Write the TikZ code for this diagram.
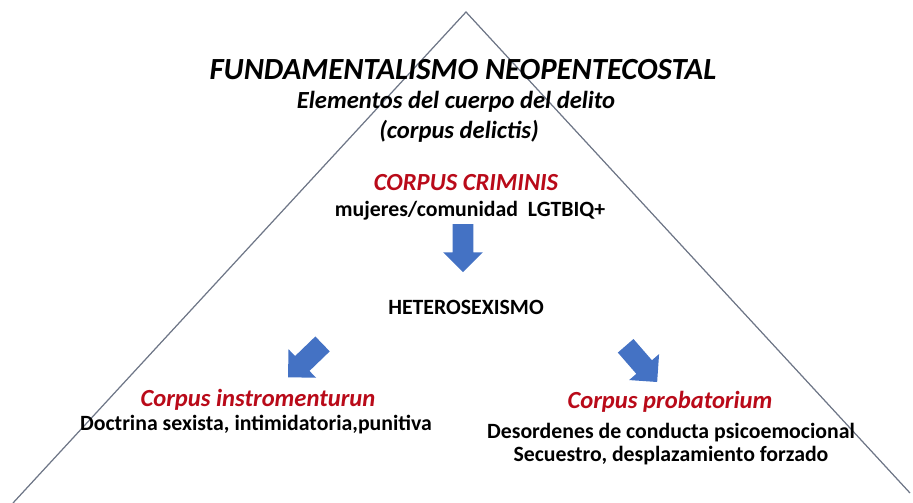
\documentclass[tikz,border=0pt]{standalone}
\usepackage{fontspec}
\setmainfont{Carlito}
\usepackage{tikz}
\usetikzlibrary{positioning,shapes.arrows}
\definecolor{darkred}{RGB}{185,10,25}
\definecolor{arrowblue}{RGB}{68,114,196}
\definecolor{edgegray}{RGB}{110,118,135}

\begin{document}
\begin{tikzpicture}[x=0.02cm, y=-0.02cm, inner sep=0pt,
		head/.style={font=\fontsize{17.5}{20}\selectfont\bfseries\itshape},
		sub/.style={font=\fontsize{14}{16}\selectfont\bfseries\itshape},
		redhead/.style={font=\fontsize{14}{16}\selectfont\bfseries\itshape, text=darkred},
		plain/.style={font=\fontsize{12.4}{14}\selectfont\bfseries},
		blockarrow/.style={single arrow, fill=arrowblue, draw=none, inner xsep=0pt, inner ysep=0.2cm,
			minimum height=0.96cm, single arrow head extend=0.19cm}]
		\useasboundingbox (0,0) rectangle (913,503);

		% pyramid outline
		\coordinate (apex) at (466,12);
		\coordinate (bl) at (13,503);
		\coordinate (br) at (910,493);
		\draw[edgegray, line width=0.7pt] (bl) -- (apex) -- (br);

		\node[head] (title) at (463,70) {FUNDAMENTALISMO NEOPENTECOSTAL};
		\node[sub] (elem) at (456,102) {Elementos del cuerpo del delito};
		\node[sub] (delictis) at (459,131) {(corpus delictis)};

		\node[redhead] (criminis) at (466,183) {CORPUS CRIMINIS};
		\node[plain] (mujeres) at (470,211) {mujeres/comunidad\ \ LGTBIQ+};
		\node[plain] (hetero) at (466,307) {HETEROSEXISMO};

		\node[redhead] (instrum) at (258,400) {Corpus instromenturun};
		\node[plain] (doctrina) at (256,425) {Doctrina sexista, intimidatoria,punitiva};

		\node[redhead] (probat) at (670,402) {Corpus probatorium};
		\node[plain] (desord) at (671,433) {Desordenes de conducta psicoemocional};
		\node[plain] (secuest) at (671,456) {Secuestro, desplazamiento forzado};

		\node[blockarrow, rotate=-90] (down) at (463,243) {};
		\node[blockarrow, rotate=224] (left) at (309,357) {};
		\node[blockarrow, rotate=-49] (right) at (638,360) {};
	\end{tikzpicture}
\end{document}
